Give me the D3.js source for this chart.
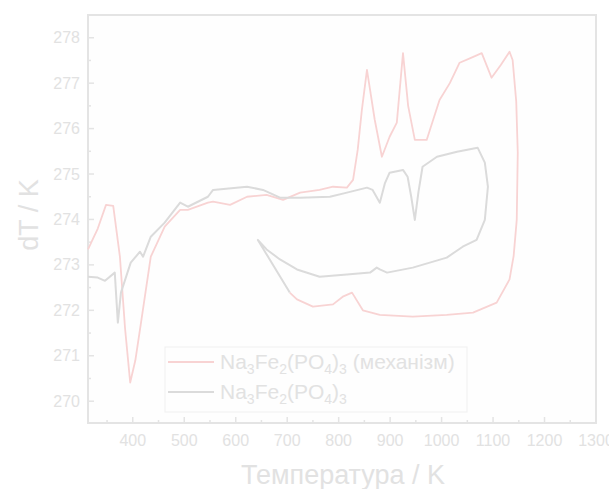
<!DOCTYPE html>
<html>
<head>
<meta charset="utf-8">
<script src="https://cdn.jsdelivr.net/npm/d3@7"></script>
<style>
  body { margin: 0; background: #fff; }
  text { font-family: "Liberation Sans", Arial, sans-serif; }
</style>
</head>
<body>
<div id="chart"></div>
<script>
// temperature (K) and dT (K) for each curve, heating then cooling
var mechT = [313, 332, 348, 362, 375, 385, 395, 405, 416, 435, 462, 492, 507, 546, 556, 589, 622, 660, 692, 725, 763, 789, 816, 828, 837, 845, 855, 870, 884, 899, 913, 925, 935, 948, 971, 996, 1016, 1035, 1056, 1078, 1097, 1115, 1132, 1138, 1145, 1148, 1146, 1140, 1132, 1107, 1061, 1010, 944, 880, 847, 826, 808, 789, 750, 719, 705];
var mechV = [273.34, 273.8, 274.32, 274.3, 273.18, 271.6, 270.41, 270.9, 271.73, 273.18, 273.84, 274.21, 274.21, 274.37, 274.39, 274.32, 274.5, 274.54, 274.43, 274.59, 274.65, 274.72, 274.7, 274.87, 275.53, 276.4, 277.29, 276.2, 275.38, 275.82, 276.13, 277.66, 276.5, 275.75, 275.75, 276.63, 277.0, 277.45, 277.55, 277.66, 277.12, 277.4, 277.69, 277.51, 276.6, 275.47, 273.99, 273.2, 272.68, 272.17, 271.95, 271.9, 271.86, 271.9, 272.0, 272.39, 272.3, 272.13, 272.08, 272.24, 272.39];

var pureT = [313, 332, 346, 365, 371, 377, 396, 414, 420, 435, 462, 492, 507, 546, 556, 622, 653, 686, 725, 783, 816, 855, 866, 880, 890, 899, 925, 934, 941, 948, 955, 963, 991, 1030, 1070, 1084, 1090, 1084, 1068, 1041, 1010, 944, 894, 880, 874, 861, 816, 763, 719, 686, 660, 643, 705];
var pureV = [272.74, 272.72, 272.65, 272.83, 271.73, 272.39, 273.05, 273.29, 273.18, 273.62, 273.93, 274.37, 274.28, 274.5, 274.65, 274.72, 274.65, 274.48, 274.48, 274.5, 274.59, 274.7, 274.65, 274.37, 274.8, 275.03, 275.09, 274.94, 274.5, 273.99, 274.6, 275.16, 275.38, 275.49, 275.58, 275.25, 274.72, 273.99, 273.55, 273.4, 273.16, 272.94, 272.83, 272.9, 272.94, 272.83, 272.79, 272.74, 272.9, 273.12, 273.34, 273.55, 272.39];

var xTicks = [400, 500, 600, 700, 800, 900, 1000, 1100, 1200, 1300];
var yTicks = [270, 271, 272, 273, 274, 275, 276, 277, 278];

var width = 609, height = 489,
    margin = {top: 15, right: 13, bottom: 66, left: 88},
    w = width - margin.left - margin.right,
    h = height - margin.top - margin.bottom;

var svg = d3.select("#chart").append("svg")
    .attr("width", width).attr("height", height);

svg.append("rect").attr("width", width).attr("height", height).attr("fill", "#ffffff");

var g = svg.append("g").attr("transform", "translate(" + margin.left + "," + margin.top + ")");

var x = d3.scaleLinear().domain([313, 1300]).range([0, w]);
var y = d3.scaleLinear().domain([269.52, 278.5]).range([h, 0]);

var axisCol = "#e4e4e4", textCol = "#e2e2e2";

g.append("rect").attr("width", w).attr("height", h)
    .attr("fill", "#fefefe").attr("stroke", axisCol).attr("stroke-width", 2);

// major + minor ticks, pointing inward
var xMinor = d3.range(350, 1300, 100);
var yMinor = d3.range(270.5, 278.5, 1);

g.selectAll(".xt").data(xTicks.filter(function(d) { return d < 1300; })).enter().append("line")
    .attr("x1", x).attr("x2", x).attr("y1", h).attr("y2", h - 6)
    .attr("stroke", axisCol).attr("stroke-width", 1.5);
g.selectAll(".xm").data(xMinor).enter().append("line")
    .attr("x1", x).attr("x2", x).attr("y1", h).attr("y2", h - 3)
    .attr("stroke", axisCol).attr("stroke-width", 1.5);
g.selectAll(".yt").data(yTicks).enter().append("line")
    .attr("y1", y).attr("y2", y).attr("x1", 0).attr("x2", 6)
    .attr("stroke", axisCol).attr("stroke-width", 1.5);
g.selectAll(".ym").data(yMinor).enter().append("line")
    .attr("y1", y).attr("y2", y).attr("x1", 0).attr("x2", 3)
    .attr("stroke", axisCol).attr("stroke-width", 1.5);

g.selectAll(".xl").data(xTicks).enter().append("text")
    .attr("x", x).attr("y", h + 23)
    .attr("text-anchor", "middle").attr("font-size", 16).attr("fill", textCol)
    .text(function(d) { return d; });
g.selectAll(".yl").data(yTicks).enter().append("text")
    .attr("x", -8).attr("y", y).attr("dy", "0.35em")
    .attr("text-anchor", "end").attr("font-size", 16).attr("fill", textCol)
    .text(function(d) { return d; });

svg.append("text").attr("x", 343).attr("y", 484)
    .attr("text-anchor", "middle").attr("font-size", 27).attr("fill", textCol)
    .text("Температура / K");
svg.append("text").attr("transform", "translate(38,215) rotate(-90)")
    .attr("text-anchor", "middle").attr("font-size", 27).attr("fill", textCol)
    .text("dT / K");

var line = d3.line().x(function(d) { return x(d[0]); }).y(function(d) { return y(d[1]); });

var mech = mechT.map(function(t, i) { return [t, mechV[i]]; });
var pure = pureT.map(function(t, i) { return [t, pureV[i]]; });

g.append("path").datum(mech).attr("d", line)
    .attr("fill", "none").attr("stroke", "#f8d3d3").attr("stroke-width", 1.8)
    .attr("stroke-linejoin", "round");
g.append("path").datum(pure).attr("d", line)
    .attr("fill", "none").attr("stroke", "#dbdbdb").attr("stroke-width", 2)
    .attr("stroke-linejoin", "round");

// legend
var lg = svg.append("g").attr("transform", "translate(165,347)");
lg.append("rect").attr("width", 302).attr("height", 65)
    .attr("fill", "#fefefe").attr("stroke", "#f0f0f0").attr("stroke-width", 1);

var legendItems = [
  {col: "#f8d3d3", parts: [["Na", 0], ["3", 1], ["Fe", 0], ["2", 1], ["(PO", 0], ["4", 1], [")", 0], ["3", 1], [" (механізм)", 0]]},
  {col: "#dbdbdb", parts: [["Na", 0], ["3", 1], ["Fe", 0], ["2", 1], ["(PO", 0], ["4", 1], [")", 0], ["3", 1]]}
];
legendItems.forEach(function(it, i) {
  var yy = 15 + i * 30;
  lg.append("line").attr("x1", 3).attr("x2", 49).attr("y1", yy).attr("y2", yy)
      .attr("stroke", it.col).attr("stroke-width", 1.8);
  var t = lg.append("text").attr("x", 55).attr("y", yy + 7)
      .attr("font-size", 21).attr("fill", textCol);
  it.parts.forEach(function(p, j) {
    var prevSub = j > 0 && it.parts[j - 1][1];
    var s = t.append("tspan").text(p[0])
        .attr("dy", p[1] ? 5 : (prevSub ? -5 : 0));
    if (p[1]) s.attr("font-size", 14);
  });
});
</script>
</body>
</html>
